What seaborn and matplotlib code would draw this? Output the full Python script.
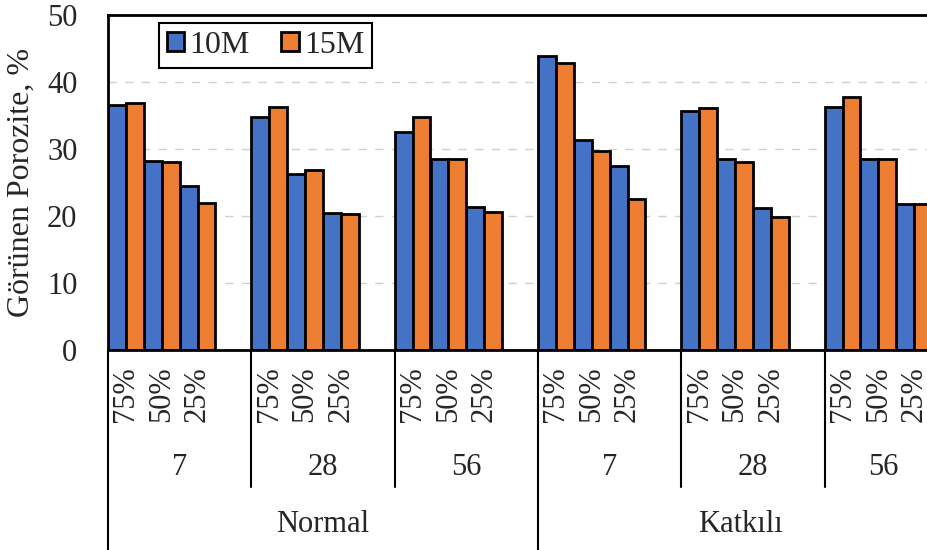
import pandas as pd
import seaborn as sns
import matplotlib.pyplot as plt
import matplotlib.transforms as mtransforms

# Veriler
karisimlar = ['Normal', 'Katkılı']
yaslar = ['7', '28', '56']
oranlar = ['75%', '50%', '25%']
normal_10m = [36.5, 28.2, 24.5, 34.8, 26.2, 20.5, 32.5, 28.5, 21.4]
normal_15m = [36.8, 28.0, 22.0, 36.2, 26.8, 20.3, 34.8, 28.5, 20.6]
katkili_10m = [43.9, 31.4, 27.5, 35.7, 28.5, 21.2, 36.2, 28.5, 21.8]
katkili_15m = [42.8, 29.7, 22.6, 36.1, 28.0, 19.9, 37.8, 28.5, 21.8]
seriler = ['10M', '15M']
renkler = ['#4472C4', '#ED7D31']

degerler = {('Normal', '10M'): normal_10m, ('Normal', '15M'): normal_15m,
            ('Katkılı', '10M'): katkili_10m, ('Katkılı', '15M'): katkili_15m}

# Uzun formatta tablo
satirlar = []
for k in karisimlar:
    for s in seriler:
        i = 0
        for y in yaslar:
            for o in oranlar:
                satirlar.append({'kat': f'{k}|{y}|{o}', 'seri': s, 'deger': degerler[(k, s)][i]})
                i += 1
df = pd.DataFrame(satirlar)

# Her yaş grubunun sonunda boş bir kategori (Excel'deki boşluk)
sira = []
for k in karisimlar:
    for y in yaslar:
        for o in oranlar:
            sira.append(f'{k}|{y}|{o}')
        sira.append(f'{k}|{y}|bos')

sns.set_style('white')
plt.rcParams['font.family'] = ['Liberation Serif', 'DejaVu Serif']

fig = plt.figure(figsize=(9.28, 5.5), dpi=100)
ax = fig.add_axes([108 / 928, 200 / 550, 860 / 928, 335 / 550])

sns.barplot(data=df, x='kat', y='deger', hue='seri', order=sira, hue_order=seriler,
            palette=renkler, saturation=1, width=1.0, edgecolor='black', linewidth=2.0,
            errorbar=None, ax=ax)

ax.set_xlim(-0.5, len(sira) - 0.5)
ax.set_ylim(0, 50)
ax.set_yticks(range(0, 51, 10))
for g in range(10, 50, 10):
    ax.axhline(g, color='#d0d0d0', lw=1.0, ls=(0, (6, 6)), zorder=0)
ax.set_axisbelow(True)

ax.set_ylabel('Görünen Porozite, %', fontsize=23, labelpad=8)
ax.set_xlabel('')
ax.tick_params(axis='y', length=0, labelsize=22, pad=22)

pos = [i for i, c in enumerate(sira) if not c.endswith('bos')]
ax.set_xticks(pos)
ax.set_xticklabels([sira[i].split('|')[2] for i in pos], rotation=90)
ax.tick_params(axis='x', length=0, labelsize=22, pad=12)

for sp in ['top', 'left', 'bottom']:
    ax.spines[sp].set_color('black')
    ax.spines[sp].set_linewidth(2)
ax.spines['right'].set_visible(False)

# Çok seviyeli kategori etiketleri ve ayırıcılar
tr = mtransforms.blended_transform_factory(ax.transData, ax.transAxes)
gorunen_son = 22.8
for ki, k in enumerate(karisimlar):
    bas = ki * 12 - 0.5
    for yi, y in enumerate(yaslar):
        gb = bas + yi * 4
        gs = min(gb + 4, gorunen_son)
        ax.text((gb + gs) / 2, -0.35, y, transform=tr, ha='center', va='center',
                fontsize=22, clip_on=False)
        alt = -0.6 if yi == 0 else -0.41
        ax.plot([gb, gb], [0, alt], transform=tr, color='black', lw=1.5, clip_on=False)
    ax.text((bas + min(bas + 12, gorunen_son)) / 2, -0.52, k, transform=tr, ha='center',
            va='center', fontsize=22, clip_on=False)

ax.legend(loc='upper left', bbox_to_anchor=(0.059, 0.976), ncol=2, fontsize=23,
          frameon=True, fancybox=False, edgecolor='black', framealpha=1,
          handlelength=0.55, handleheight=0.55, handletextpad=0.15, columnspacing=1.0,
          borderpad=0.25, borderaxespad=0)
ax.get_legend().get_frame().set_linewidth(1.5)

fig.savefig('out.png', dpi=100)
